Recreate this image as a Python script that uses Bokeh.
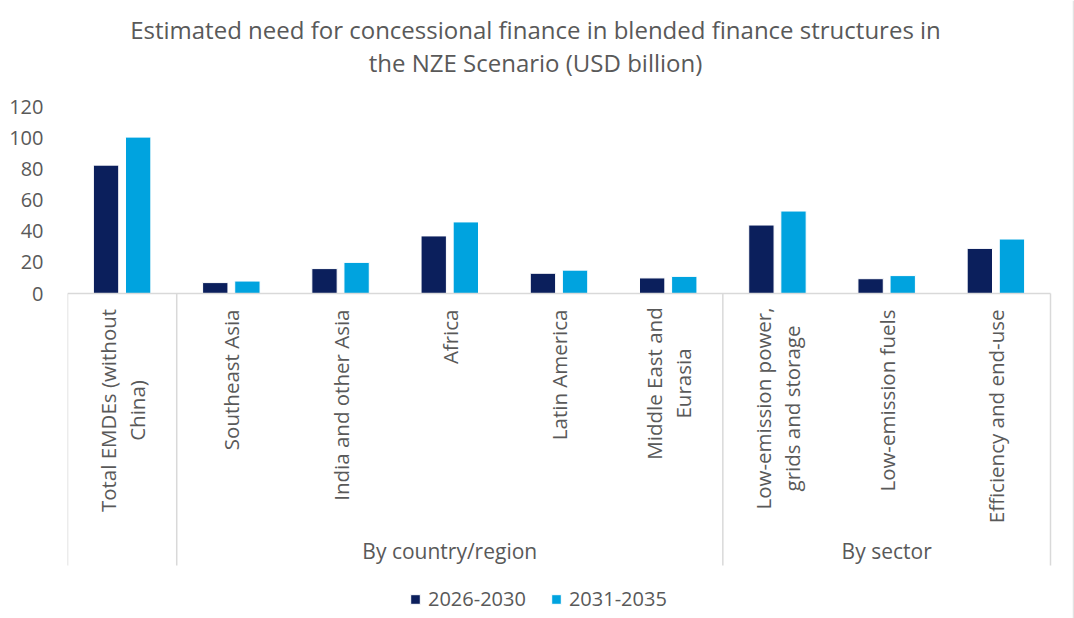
import math
from bokeh.plotting import figure
from bokeh.models import Range1d, FixedTicker, Legend, LegendItem, ColumnDataSource
from bokeh.core.properties import value
from bokeh.embed import file_html
from bokeh.resources import INLINE

# ---------------- data ----------------
categories = [
    "Total EMDEs (without\nChina)",
    "Southeast Asia",
    "India and other Asia",
    "Africa",
    "Latin America",
    "Middle East and\nEurasia",
    "Low-emission power,\ngrids and storage",
    "Low-emission fuels",
    "Efficiency and end-use",
]
group_names = ["By country/region", "By sector"]
group_start = [1, 6]
group_end = [6, 9]
series_names = ["2026-2030", "2031-2035"]
v_2026_2030 = [82.5, 7, 16, 37, 13, 10, 44, 9.5, 29]
v_2031_2035 = [100.5, 8, 20, 46, 15, 11, 53, 11.5, 35]
y_ticks = [0, 20, 40, 60, 80, 100, 120]
title_lines = [
    "Estimated need for concessional finance in blended finance structures in",
    "the NZE Scenario (USD billion)",
]

# ---------------- layout ----------------
W, H = 1074, 618
left_px = 67
right_px = 1050
n = len(categories)
cat_px = (right_px - left_px) / n
x_end = (W - left_px) / cat_px
zero_px = 293.0
ppu = 1.556
y_start = (zero_px - H) / ppu
y_end = zero_px / ppu


def ypx(py):
    return (zero_px - py) / ppu


def xpx(px):
    return (px - left_px) / cat_px


DARK = "#0B1F5C"
LIGHT = "#00A3DF"
GRID = "#D9D9D9"
TXT = "#595959"
FONT = "Open Sans"

p = figure(
    width=W, height=H,
    x_range=Range1d(0, x_end), y_range=Range1d(y_start, y_end),
    output_backend="svg", toolbar_location=None,
    x_axis_location=None,
    min_border_left=left_px, min_border_right=0,
    min_border_top=0, min_border_bottom=0,
)
p.xgrid.visible = False
p.ygrid.visible = False
p.outline_line_color = None
p.background_fill_color = "white"
p.border_fill_color = "white"

ax = p.yaxis[0]
ax.ticker = FixedTicker(ticks=y_ticks)
ax.axis_line_color = None
ax.major_tick_line_color = None
ax.minor_tick_line_color = None
ax.major_label_standoff = 18
ax.major_label_text_font = FONT
ax.major_label_text_font_size = "20px"
ax.major_label_text_color = TXT

# bars
off = 0.147
bw = 0.232
idx = list(range(n))
src = ColumnDataSource(dict(
    x1=[i + 0.5 - off for i in idx],
    x2=[i + 0.5 + off for i in idx],
    a=v_2026_2030,
    b=v_2031_2035,
))
r1 = p.vbar(x="x1", top="a", bottom=0, width=bw, source=src,
            fill_color=DARK, line_color="white", line_width=1)
r2 = p.vbar(x="x2", top="b", bottom=0, width=bw, source=src,
            fill_color=LIGHT, line_color="white", line_width=1)

# category axis line and separators
p.segment(x0=[0], y0=[0], x1=[n], y1=[0], line_color=GRID, line_width=1.5)
sep_x = [0] + group_start + [n]
p.segment(x0=sep_x, y0=[0] * len(sep_x), x1=sep_x, y1=[ypx(565)] * len(sep_x),
          line_color=GRID, line_width=1.5)
# right chart border
p.segment(x0=[xpx(1073)], y0=[y_start], x1=[xpx(1073)], y1=[y_end],
          line_color="#E3E3E3", line_width=1.5)

# category labels (rotated)
label_top = ypx(309)
two_line_center_px = {0: 410, 5: 383, 6: 408}
line_gap = 14.5 / cat_px
sx, sy, st = [], [], []
cx, cy, ct = [], [], []
for i, lab in enumerate(categories):
    lines = lab.split("\n")
    c = i + 0.5
    if len(lines) == 1:
        sx.append(c); sy.append(label_top); st.append(lab)
    else:
        mid = ypx(two_line_center_px[i])
        cx += [c - line_gap, c + line_gap]
        cy += [mid, mid]
        ct += lines
p.text(x=sx, y=sy, text=st, angle=math.pi / 2, text_align="right",
       text_baseline="middle", text_font=value(FONT),
       text_font_size=value("20.5px"), text_color=TXT)
p.text(x=cx, y=cy, text=ct, angle=math.pi / 2, text_align="center",
       text_baseline="middle", text_font=value(FONT),
       text_font_size=value("20.5px"), text_color=TXT)

# group labels
gx = [(s + e) / 2 for s, e in zip(group_start, group_end)]
p.text(x=gx, y=[ypx(550)] * len(gx), text=group_names, text_align="center",
       text_baseline="middle", text_font=value(FONT),
       text_font_size=value("21px"), text_color=TXT)

# title
p.text(x=[xpx(535)] * 2, y=[ypx(29), ypx(62)], text=title_lines,
       text_align="center", text_baseline="middle", text_font=value(FONT),
       text_font_size=value("24px"), text_color=TXT)

legend = Legend(
    items=[LegendItem(label=series_names[0], renderers=[r1]),
           LegendItem(label=series_names[1], renderers=[r2])],
    orientation="horizontal", location=(342, 6),
    glyph_width=12, glyph_height=12, label_standoff=7, spacing=24,
    padding=0, margin=0, border_line_color=None, background_fill_alpha=0,
    label_text_font=FONT, label_text_font_size="20px", label_text_color=TXT,
)
p.add_layout(legend)

open("out.html", "w").write(file_html(p, INLINE))
